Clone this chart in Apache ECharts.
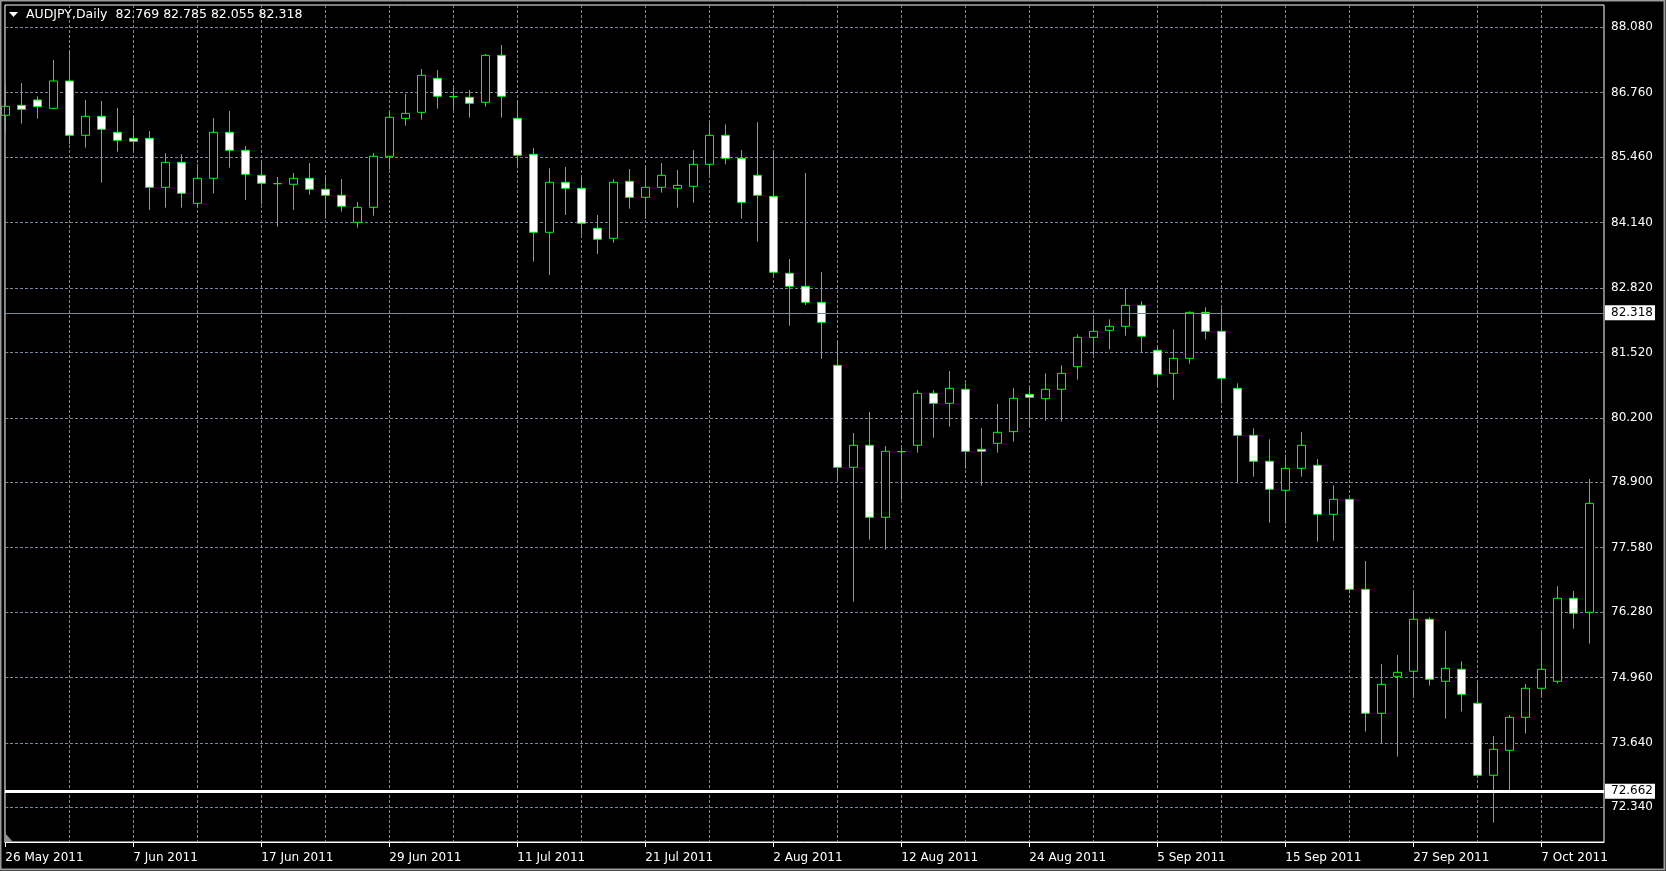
<!DOCTYPE html>
<html><head><meta charset="utf-8">
<script src="https://cdn.jsdelivr.net/npm/echarts@6/dist/echarts.min.js"></script>
<style>html,body{margin:0;padding:0;background:#000;overflow:hidden}#c{width:1666px;height:871px;}</style>
</head><body><div id="c"></div>
<script>
const headerText = 'AUDJPY,Daily  82.769 82.785 82.055 82.318';
const dates = ['26 May 2011','27 May 2011','30 May 2011','31 May 2011','1 Jun 2011','2 Jun 2011','3 Jun 2011','6 Jun 2011',
'7 Jun 2011','8 Jun 2011','9 Jun 2011','10 Jun 2011','13 Jun 2011','14 Jun 2011','15 Jun 2011','16 Jun 2011',
'17 Jun 2011','20 Jun 2011','21 Jun 2011','22 Jun 2011','23 Jun 2011','24 Jun 2011','27 Jun 2011','28 Jun 2011',
'29 Jun 2011','30 Jun 2011','1 Jul 2011','4 Jul 2011','5 Jul 2011','6 Jul 2011','7 Jul 2011','8 Jul 2011',
'11 Jul 2011','12 Jul 2011','13 Jul 2011','14 Jul 2011','15 Jul 2011','18 Jul 2011','19 Jul 2011','20 Jul 2011',
'21 Jul 2011','22 Jul 2011','25 Jul 2011','26 Jul 2011','27 Jul 2011','28 Jul 2011','29 Jul 2011','1 Aug 2011',
'2 Aug 2011','3 Aug 2011','4 Aug 2011','5 Aug 2011','8 Aug 2011','9 Aug 2011','10 Aug 2011','11 Aug 2011',
'12 Aug 2011','15 Aug 2011','16 Aug 2011','17 Aug 2011','18 Aug 2011','19 Aug 2011','22 Aug 2011','23 Aug 2011',
'24 Aug 2011','25 Aug 2011','26 Aug 2011','29 Aug 2011','30 Aug 2011','31 Aug 2011','1 Sep 2011','2 Sep 2011',
'5 Sep 2011','6 Sep 2011','7 Sep 2011','8 Sep 2011','9 Sep 2011','12 Sep 2011','13 Sep 2011','14 Sep 2011',
'15 Sep 2011','16 Sep 2011','19 Sep 2011','20 Sep 2011','21 Sep 2011','22 Sep 2011','23 Sep 2011','26 Sep 2011',
'27 Sep 2011','28 Sep 2011','29 Sep 2011','30 Sep 2011','3 Oct 2011','4 Oct 2011','5 Oct 2011','6 Oct 2011',
'7 Oct 2011','10 Oct 2011','11 Oct 2011','12 Oct 2011'];
const openP = [86.304,86.506,86.613,86.445,86.997,85.900,86.284,85.961,85.840,85.840,84.851,85.355,84.528,85.033,85.961,85.598,
85.093,84.925,84.912,85.033,84.811,84.690,84.145,84.447,85.477,86.243,86.364,87.050,86.680,86.667,86.566,87.514,
86.243,85.517,83.943,84.952,84.831,84.024,83.822,84.972,84.649,84.851,84.831,84.871,85.315,85.900,85.436,85.093,
84.669,83.116,82.853,82.530,81.259,79.201,79.645,78.192,79.517,79.645,80.694,80.492,80.775,79.564,79.685,79.921,
80.674,80.586,80.775,81.232,81.824,81.965,82.046,82.469,81.562,81.097,81.400,82.328,81.945,80.795,79.846,79.322,
78.737,79.181,79.241,78.252,78.555,76.739,74.237,74.984,75.085,76.134,74.883,75.125,74.439,72.986,73.490,74.156,
74.742,74.883,76.558,76.275];
const highP = [86.929,86.956,86.687,87.420,87.602,86.613,86.593,86.452,86.290,85.988,85.537,85.517,85.322,86.250,86.391,85.685,
85.396,85.060,85.140,85.342,85.080,85.019,84.555,85.544,86.371,86.734,87.239,87.219,86.889,86.815,87.541,87.723,
86.613,85.645,85.234,85.261,85.060,84.293,85.012,85.221,85.281,85.342,85.201,85.604,86.142,86.122,85.604,86.163,
85.604,83.405,85.140,83.142,81.757,79.894,80.317,79.631,79.598,80.761,80.761,81.145,80.896,79.995,80.479,80.802,
80.802,81.097,81.259,81.884,82.207,82.187,82.813,82.550,81.635,81.985,82.348,82.429,82.409,80.896,79.988,79.766,
79.456,79.914,79.369,78.838,78.575,77.311,75.232,75.414,76.678,76.174,75.898,75.286,74.863,73.780,74.203,74.829,
75.871,76.800,76.705,78.965];
const lowP = [85.941,86.136,86.237,86.438,85.719,85.651,84.945,85.571,85.591,84.394,84.441,84.441,84.461,84.730,85.248,84.595,
84.508,84.057,84.394,84.703,84.219,84.360,84.037,84.279,85.208,86.095,86.216,86.438,86.418,86.257,86.479,86.257,
85.234,83.351,83.082,84.293,83.896,83.506,83.735,84.421,84.212,84.743,84.441,84.542,85.107,85.315,84.219,83.755,
83.048,82.059,82.477,81.394,78.932,76.490,77.741,77.540,78.548,79.497,79.799,80.021,79.174,78.831,79.497,79.719,
80.021,80.142,80.122,80.970,81.474,81.582,81.857,81.521,80.828,80.566,81.292,81.783,80.485,78.878,79.012,78.084,
78.064,79.012,77.701,77.721,76.658,73.867,73.625,73.363,74.580,74.795,74.129,74.271,72.960,72.031,72.690,73.827,
74.573,74.836,75.945,75.643];
const closeP = [86.485,86.425,86.479,86.997,85.900,86.284,86.021,85.799,85.779,84.851,85.355,84.730,85.033,85.961,85.598,85.113,
84.932,84.925,85.033,84.811,84.690,84.468,84.447,85.477,86.264,86.344,87.111,86.687,86.680,86.546,87.514,86.687,
85.497,83.943,84.952,84.831,84.125,83.802,84.952,84.649,84.851,85.093,84.891,85.315,85.900,85.436,84.548,84.690,
83.136,82.853,82.530,82.127,79.201,79.645,78.192,79.524,79.517,80.694,80.492,80.795,79.524,79.524,79.907,80.593,
80.613,80.775,81.097,81.824,81.945,82.046,82.469,81.844,81.077,81.400,82.328,81.945,80.997,79.846,79.322,78.757,
79.180,79.645,78.252,78.555,76.739,74.237,74.822,75.064,76.134,74.923,75.145,74.620,72.986,73.510,74.156,74.742,
75.125,76.558,76.255,78.474];
const yTicks = [72.340,73.640,74.960,76.280,77.580,78.900,80.200,81.520,82.820,84.140,85.460,86.760,88.080];
const xLabelIdx = [0,8,16,24,32,40,48,56,64,72,80,88,96];
const xGridIdx = [4,8,12,16,20,24,28,32,36,40,44,48,52,56,60,64,68,72,76,80,84,88,92,96];
const currentPrice = 82.318;
const levelPrice = 72.662;

const FONT = 'DejaVu Sans';
const GRID = '#778899';
const candleData = dates.map((d, i) => [i, openP[i], closeP[i], lowP[i], highP[i]]);

const chart = echarts.init(document.getElementById('c'), null, {renderer: 'canvas'});
function markLabel(v) {
  return {
    show: true, position: 'end', distance: 1,
    color: '#000', backgroundColor: '#fff', fontFamily: FONT, fontSize: 12,
    padding: [1, 2, 1, 6], lineHeight: 13,
    formatter: () => v.toFixed(3)
  };
}
chart.setOption({
  animation: false,
  backgroundColor: '#000',
  grid: {left: 5, top: 5, width: 1599, height: 837, show: true, borderColor: '#fff', borderWidth: 1, backgroundColor: 'transparent'},
  xAxis: [{
    type: 'value', min: -0.02, max: 99.92, position: 'bottom',
    axisLine: {show: true, onZero: false, lineStyle: {color: '#fff', width: 1}},
    axisTick: {show: true, customValues: xLabelIdx, length: 5, lineStyle: {color: '#fff'}},
    axisLabel: {customValues: xLabelIdx, formatter: v => dates[v], align: 'left', color: '#fff',
      fontFamily: FONT, fontSize: 12, margin: 10},
    splitLine: {show: false}
  }, {
    type: 'value', min: -0.02, max: 99.92, position: 'top',
    axisLine: {show: false},
    axisTick: {show: false, customValues: xGridIdx},
    axisLabel: {show: false, customValues: xGridIdx},
    splitLine: {show: true, lineStyle: {color: GRID, type: [3, 2], width: 1}}
  }],
  yAxis: {
    type: 'value', position: 'right', min: 71.640, max: 88.530,
    axisLine: {show: false},
    axisTick: {show: true, customValues: yTicks, length: 5, lineStyle: {color: GRID, type: [3, 2]}},
    axisLabel: {customValues: yTicks, formatter: v => v.toFixed(3), color: '#fff', fontFamily: FONT, fontSize: 12, margin: 7,
      padding: [4, 0, 0, 0]},
    splitLine: {show: true, lineStyle: {color: GRID, type: [3, 2], width: 1}}
  },
  series: [{
    type: 'candlestick',
    xAxisIndex: 0,
    data: candleData,
    encode: {x: 0, y: [1, 2, 3, 4]},
    barWidth: 9,
    clip: true,
    itemStyle: {color: '#000', color0: '#fff', borderColor: '#00ff00', borderColor0: '#00ff00', borderColorDoji: '#00ff00', borderWidth: 1},
    markLine: {
      silent: true, symbol: ['none', 'none'], animation: false, precision: 3,
      data: [
        {yAxis: currentPrice, lineStyle: {color: GRID, width: 1, type: 'solid'}, label: markLabel(currentPrice)},
        {yAxis: levelPrice, lineStyle: {color: '#fff', width: 3, type: 'solid'}, label: markLabel(levelPrice)}
      ]
    }
  }],
  graphic: [
    {type: 'rect', shape: {x: 0.5, y: 0.5, width: 1664, height: 869}, style: {fill: 'none', stroke: '#9a9a9a', lineWidth: 2}, silent: true},
    {type: 'line', shape: {x1: 4.5, y1: 5, x2: 4.5, y2: 842}, style: {stroke: '#8c8c8c', lineWidth: 1}, silent: true, z: 100},
    {type: 'polygon', shape: {points: [[5, 833], [5, 842], [13, 842]]}, style: {fill: '#8c9098'}, silent: true, z: 100},
    {type: 'polygon', shape: {points: [[9, 12], [18, 12], [13.5, 17]]}, style: {fill: '#fff'}, silent: true, z: 100},
    {type: 'text', x: 26, y: 15, style: {text: headerText, fill: '#fff', font: '12.5px "DejaVu Sans"', verticalAlign: 'middle'}, silent: true, z: 100}
  ]
});
</script>
</body></html>
